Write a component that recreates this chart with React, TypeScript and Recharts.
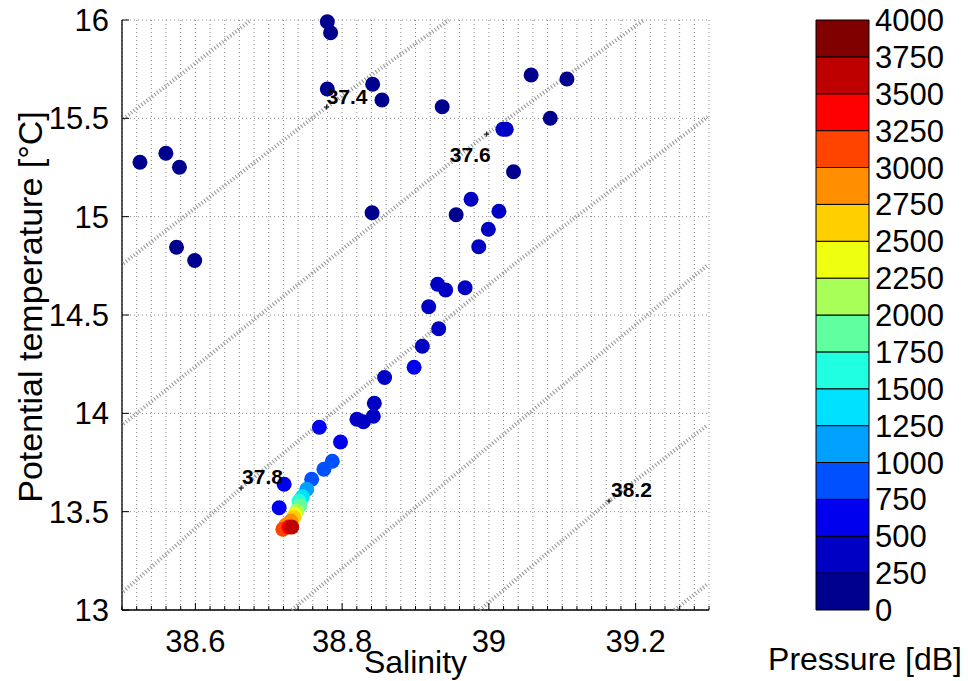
import React from 'react';
import { ScatterChart, Scatter, XAxis, YAxis, CartesianGrid, BarChart, Bar } from 'recharts';

const FONT = '"Liberation Sans", Arial, Helvetica, sans-serif';
const TICK_FS = 31;

// bottle data, ordered shallow -> deep
const SALINITY = [
  38.5245, 38.5598, 38.5783, 38.5743, 38.5991, 38.7798, 38.7843, 38.7798, 38.8416, 38.8543,
  38.8408, 38.9364, 39.0576, 39.1064, 39.0837, 39.0336, 38.9554,
  39.0191, 39.0237, 38.9757, 39.0137, 38.9993, 38.9862, 38.9302, 38.9411, 38.9676, 38.918, 38.9316,
  38.9093, 38.8579, 38.8439, 38.8425, 38.8202, 38.829,
  38.8981, 38.769, 38.7978, 38.721, 38.7142,
  38.7866, 38.7752, 38.7585,
  38.7518, 38.7459, 38.7413, 38.7423, 38.7382, 38.7355, 38.7341, 38.7301, 38.7233, 38.7192,
  38.7274, 38.7314,
];
const THETA = [
  15.2764, 15.3222, 15.251, 14.8443, 14.7771, 15.9914, 15.9354, 15.6492, 15.6731, 15.5932,
  15.0202, 15.5592, 15.7203, 15.7, 15.5002, 15.2287, 15.01,
  15.4442, 15.4442, 15.0883, 15.0273, 14.9358, 14.8473, 14.6561, 14.6271, 14.6388, 14.5422, 14.4304,
  14.3409, 14.1822, 14.051, 13.9849, 13.9697, 13.9575,
  14.2341, 13.929, 13.8543, 13.6392, 13.5202,
  13.7561, 13.7154, 13.6646,
  13.6138, 13.5761, 13.5543, 13.5314, 13.5034, 13.4856, 13.4704, 13.4526, 13.4322, 13.4104,
  13.422, 13.422,
];
const PRESSURE = [
  10, 20, 30, 40, 50, 60, 70, 80, 90, 100,
  120, 140, 160, 180, 200, 220, 240,
  260, 280, 290, 310, 330, 350, 370, 390, 400, 410, 420,
  430, 440, 450, 460, 470, 480,
  560, 600, 640, 680, 720,
  800, 880, 960,
  1100, 1380, 1620, 1880, 2120, 2380, 2620, 2820, 2950, 3120,
  3380, 3620,
];

const X_DOMAIN: [number, number] = [38.5, 39.3];
const Y_DOMAIN: [number, number] = [13, 16];
const THETA_TICKS = [13, 13.5, 14, 14.5, 15, 15.5, 16];

const PRESSURE_LEVELS = [0, 250, 500, 750, 1000, 1250, 1500, 1750, 2000, 2250, 2500, 2750, 3000, 3250, 3500, 3750, 4000];
const JET16 = [
  '#00008f', '#0000c4', '#0000ef', '#0050ff', '#00a0ff', '#00e0ff', '#20ffdf', '#60ff9f',
  '#a8ff58', '#eeff10', '#ffcf00', '#ff8f00', '#ff4400', '#ff0000', '#bf0000', '#800000',
];

const ISO_LEVELS = [37.2, 37.4, 37.6, 37.8, 38.0, 38.2, 38.4];
const ISO_S = [
  [38.5018, 38.6759],
  [38.5018, 38.7789, 38.9455],
  [38.5018, 38.997, 39.2111],
  [38.5018, 38.6623, 38.8791, 39.0417, 39.2981],
  [38.7314, 39.0106, 39.2981],
  [38.9875, 39.1637, 39.2981],
  [39.2531, 39.2981],
];
const ISO_T = [
  [15.4966, 16.0],
  [14.7622, 15.5576, 16.0],
  [13.946, 15.42, 16.0],
  [13.093, 13.62, 14.2865, 14.78, 15.507],
  [13.0, 13.8644, 14.754],
  [13.0, 13.554, 13.941],
  [13.0, 13.132],
];
const LABEL_TEXT = ['37.4', '37.6', '37.8', '38.2'];
const LABEL_S = [38.7789, 38.997, 38.6623, 39.1637];
const LABEL_T = [15.5576, 15.42, 13.62, 13.554];

const LABEL_STYLE: Record<string, { dx: number; dy: number; anchor: 'start' | 'end' }> = {
  '37.4': { dx: 0, dy: -3, anchor: 'start' },
  '37.6': { dx: 4, dy: 28, anchor: 'end' },
  '37.8': { dx: 1, dy: -4, anchor: 'start' },
  '38.2': { dx: 2, dy: -4, anchor: 'start' },
};

const PLOT = { left: 122, right: 709, top: 20, bottom: 610 };
const W = 968;
const H = 681;

const SAL_TICKS: number[] = [];
for (let i = 0; i <= 40; i++) SAL_TICKS.push(Math.round((38.5 + i * 0.02) * 100) / 100);
const isMajor = (v: number) => Math.round(v * 100) % 20 === 0;

const colorFor = (p: number) => JET16[Math.min(JET16.length - 1, Math.floor(p / 250))];

const points = SALINITY.map((s, i) => ({ s, t: THETA[i], p: PRESSURE[i], color: colorFor(PRESSURE[i]) }));
const isoData = ISO_S.map((ss, k) => ss.map((s, i) => ({ s, t: ISO_T[k][i] })));
const labelData = LABEL_TEXT.map((text, i) => ({ s: LABEL_S[i], t: LABEL_T[i], text }));
const cbRow = [
  PRESSURE_LEVELS.slice(1).reduce((row: any, lv, i) => {
    row[`b${i}`] = lv - PRESSURE_LEVELS[i];
    return row;
  }, { name: 'p' }),
];

const BottomTick = (props: any) => {
  const { x, y, payload } = props;
  const major = isMajor(payload.value);
  return (
    <g>
      <line x1={x} x2={x} y1={y} y2={y - (major ? 7 : 4)} stroke="#000" />
      {major && (
        <text x={x} y={y + 42} textAnchor="middle" fontSize={TICK_FS} fontFamily={FONT} fill="#000">
          {String(payload.value)}
        </text>
      )}
    </g>
  );
};

const TopTick = (props: any) => {
  const { x, y, payload } = props;
  const major = isMajor(payload.value);
  return <line x1={x} x2={x} y1={y} y2={y + (major ? 7 : 4)} stroke="#000" />;
};

const LeftTick = (props: any) => {
  const { x, y, payload } = props;
  return (
    <g>
      <line x1={x} x2={x + 7} y1={y} y2={y} stroke="#000" />
      <text x={x - 13} y={y + 11} textAnchor="end" fontSize={TICK_FS} fontFamily={FONT} fill="#000">
        {String(payload.value)}
      </text>
    </g>
  );
};

const RightTick = (props: any) => {
  const { x, y } = props;
  return <line x1={x} x2={x - 7} y1={y} y2={y} stroke="#000" />;
};

const Dot = (props: any) => {
  const { cx, cy, payload } = props;
  return <circle cx={cx} cy={cy} r={7.5} fill={payload.color} />;
};

const ContourLabel = (props: any) => {
  const { cx, cy, payload } = props;
  const o = LABEL_STYLE[payload.text];
  return (
    <g>
      <line x1={cx - 2.5} x2={cx + 2.5} y1={cy} y2={cy} stroke="#000" />
      <line x1={cx} x2={cx} y1={cy - 2.5} y2={cy + 2.5} stroke="#000" />
      <text x={cx + o.dx} y={cy + o.dy} textAnchor={o.anchor} fontSize={21} fontWeight="bold" fontFamily={FONT} fill="#000">
        {payload.text}
      </text>
    </g>
  );
};

const XLabel = () => (
  <text x={(PLOT.left + PLOT.right) / 2} y={673} textAnchor="middle" fontSize={32} fontFamily={FONT} fill="#000">
    Salinity
  </text>
);

const YLabel = () => {
  const cy = (PLOT.top + PLOT.bottom) / 2 - 8;
  return (
    <text x={42} y={cy} transform={`rotate(-90, 42, ${cy})`} textAnchor="middle" fontSize={34} fontFamily={FONT} fill="#000">
      Potential temperature [°C]
    </text>
  );
};

const noShape = () => <g />;

export default function App() {
  return (
    <div style={{ position: 'absolute', left: 0, top: 0, width: W, height: H, background: '#fff', fontFamily: FONT }}>
      <div style={{ position: 'absolute', left: 0, top: 0 }}>
        <ScatterChart
          width={W}
          height={H}
          margin={{ top: PLOT.top, right: W - PLOT.right, bottom: 0, left: 0 }}
        >
          <XAxis
            xAxisId="b"
            type="number"
            dataKey="s"
            domain={X_DOMAIN}
            ticks={SAL_TICKS}
            interval={0}
            height={H - PLOT.bottom}
            tickSize={0}
            tickMargin={0}
            tickLine={false}
            tick={BottomTick}
            axisLine={{ stroke: '#000', strokeWidth: 1.3 }}
            label={XLabel}
          />
          <XAxis
            xAxisId="t"
            orientation="top"
            type="number"
            dataKey="s"
            domain={X_DOMAIN}
            ticks={SAL_TICKS}
            interval={0}
            height={0}
            tickSize={0}
            tickMargin={0}
            tickLine={false}
            tick={TopTick}
            axisLine={{ stroke: '#000', strokeWidth: 1.3 }}
          />
          <YAxis
            yAxisId="l"
            type="number"
            dataKey="t"
            domain={Y_DOMAIN}
            ticks={THETA_TICKS}
            interval={0}
            width={PLOT.left}
            tickSize={0}
            tickMargin={0}
            tickLine={false}
            tick={LeftTick}
            axisLine={{ stroke: '#000', strokeWidth: 1.3 }}
            label={YLabel}
          />
          <YAxis
            yAxisId="r"
            orientation="right"
            type="number"
            dataKey="t"
            domain={Y_DOMAIN}
            ticks={THETA_TICKS}
            interval={0}
            width={0}
            tickSize={0}
            tickMargin={0}
            tickLine={false}
            tick={RightTick}
            axisLine={{ stroke: '#000', strokeWidth: 1.3 }}
          />
          <CartesianGrid xAxisId="b" yAxisId="l" stroke="#8a8a8a" strokeDasharray="1 3" />
          {isoData.map((d, k) => (
            <Scatter
              key={`iso-${ISO_LEVELS[k]}`}
              xAxisId="b"
              yAxisId="l"
              data={d}
              line={{ stroke: '#9a9a9a', strokeWidth: 4, strokeDasharray: '1.1 2.2' }}
              shape={noShape}
              isAnimationActive={false}
            />
          ))}
          <Scatter xAxisId="b" yAxisId="l" data={points} shape={Dot} isAnimationActive={false} />
          <Scatter xAxisId="b" yAxisId="l" data={labelData} shape={ContourLabel} isAnimationActive={false} />
        </ScatterChart>
      </div>
      <div style={{ position: 'absolute', left: 740, top: 0 }}>
        <BarChart
          width={228}
          height={H}
          data={cbRow}
          margin={{ top: PLOT.top, right: 0, bottom: H - PLOT.bottom, left: 76 }}
          barCategoryGap={0}
        >
          <XAxis dataKey="name" hide />
          <YAxis
            orientation="right"
            type="number"
            domain={[0, 4000]}
            ticks={PRESSURE_LEVELS}
            interval={0}
            width={99}
            tickLine={false}
            axisLine={false}
            tickSize={0}
            tickMargin={6}
            tick={{ fill: '#000', fontSize: TICK_FS, fontFamily: FONT }}
          />
          {JET16.map((c, i) => (
            <Bar key={c} dataKey={`b${i}`} stackId="cb" fill={c} stroke="#000" strokeWidth={1} isAnimationActive={false} />
          ))}
        </BarChart>
      </div>
      <div
        style={{
          position: 'absolute',
          left: 765,
          top: 643,
          width: 200,
          textAlign: 'center',
          fontSize: 32,
          lineHeight: '32px',
          color: '#000',
          whiteSpace: 'nowrap',
        }}
      >
        Pressure [dB]
      </div>
    </div>
  );
}
